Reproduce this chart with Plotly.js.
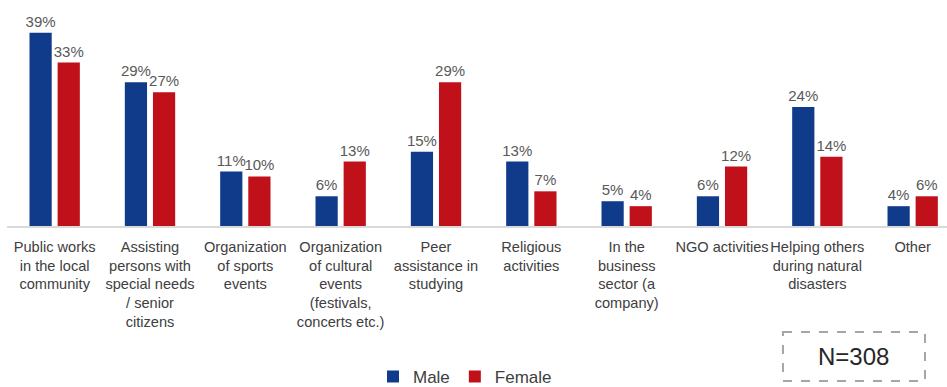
<!DOCTYPE html>
<html>
<head>
<meta charset="utf-8">
<script src="https://cdn.plot.ly/plotly-3.0.1.min.js"></script>
<style>html,body{margin:0;padding:0;background:#fff;}#chart{width:947px;height:387px;}</style>
</head>
<body>
<div id="chart"></div>
<script>
var categories = [
  "Public works<br>in the local<br>community",
  "Assisting<br>persons with<br>special needs<br>/ senior<br>citizens",
  "Organization<br>of sports<br>events",
  "Organization<br>of cultural<br>events<br>(festivals,<br>concerts etc.)",
  "Peer<br>assistance in<br>studying",
  "Religious<br>activities",
  "In the<br>business<br>sector (a<br>company)",
  "NGO activities",
  "Helping others<br>during natural<br>disasters",
  "Other"
];
var maleValues = [39, 29, 11, 6, 15, 13, 5, 6, 24, 4];
var femaleValues = [33, 27, 10, 13, 29, 7, 4, 12, 14, 6];
var seriesNames = ["Male", "Female"];
var sampleNote = "N=308";

function pct(v) { return v.map(function (x) { return x + "%"; }); }

var font = "Liberation Sans, Arial, sans-serif";

var traces = [
  {
    type: "bar", name: seriesNames[0], x: categories, y: maleValues,
    text: pct(maleValues), textposition: "outside", constraintext: "none", cliponaxis: false,
    textfont: {family: font, size: 15, color: "#595959"},
    marker: {color: "#103B8A"}, hoverinfo: "skip"
  },
  {
    type: "bar", name: seriesNames[1], x: categories, y: femaleValues,
    text: pct(femaleValues), textposition: "outside", constraintext: "none", cliponaxis: false,
    textfont: {family: font, size: 15, color: "#595959"},
    marker: {color: "#C0101A"}, hoverinfo: "skip"
  }
];

var layout = {
  width: 947, height: 387,
  margin: {l: 7, r: 0, t: 10, b: 161, autoexpand: false},
  paper_bgcolor: "#fff", plot_bgcolor: "#fff",
  barmode: "group", bargap: 0.41, bargroupgap: 0.21,
  font: {family: font, color: "#404040"},
  xaxis: {
    type: "category", range: [-0.5, 9.36], automargin: false,
    showline: true, linecolor: "#d9d9d9", linewidth: 2,
    ticks: "outside", ticklen: 6, tickcolor: "rgba(0,0,0,0)",
    tickfont: {family: font, size: 14.6, color: "#404040"},
    showgrid: false, zeroline: false, fixedrange: true, tickangle: 0
  },
  yaxis: {
    range: [0, 43.6], visible: false, showgrid: false, zeroline: false, fixedrange: true
  },
  showlegend: true,
  legend: {
    orientation: "h", xref: "container", yref: "container",
    x: 0.491, xanchor: "center", y: 0.026, yanchor: "middle",
    itemwidth: 30,
    font: {family: font, size: 17, color: "#404040"}, traceorder: "normal"
  },
  shapes: [
    {type: "rect", xref: "paper", yref: "paper", x0: 0.8255, x1: 0.9766, y0: -0.491, y1: -0.7176,
     line: {color: "#a6a6a6", width: 2, dash: "dash"}, fillcolor: "rgba(0,0,0,0)"}
  ],
  annotations: [
    {xref: "paper", yref: "paper", x: 0.901, y: -0.606, xanchor: "center", yanchor: "middle",
     text: sampleNote, showarrow: false, font: {family: font, size: 24, color: "#262626"}}
  ]
};

Plotly.newPlot("chart", traces, layout, {displayModeBar: false, staticPlot: true});
</script>
</body>
</html>
